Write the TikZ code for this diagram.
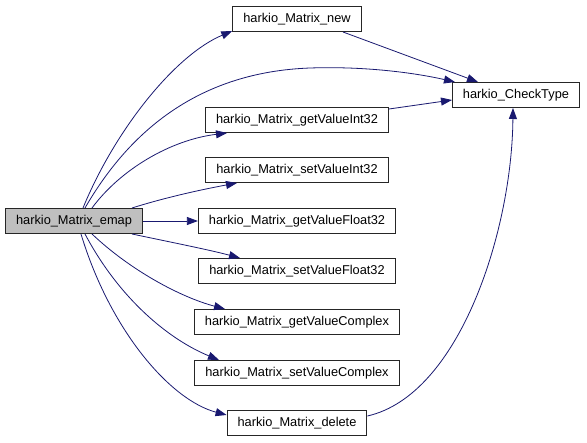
\documentclass[tikz,border=0pt]{standalone}
\usepackage{fontspec}
\setmainfont{Liberation Sans}
\usepackage{xcolor}
\usetikzlibrary{arrows.meta}
\definecolor{callblue}{HTML}{191970}

\begin{document}
\begin{tikzpicture}[x=1pt,y=-1pt,
		fn/.style={draw=black!85, line width=1pt, minimum height=25pt, inner xsep=10.5pt, inner ysep=0pt, font=\fontsize{12.8}{15}\selectfont},
		call/.style={draw=callblue, line width=0.8pt, -{Triangle[length=11pt,width=8pt]}}]
		\useasboundingbox (0,0) rectangle (587,443);
		% caller
		\node[fn, fill=black!25] (emap) at (74,221) {harkio\_Matrix\_emap};
		% callees
		\node[fn] (new) at (297,19) {harkio\_Matrix\_new};
		\node[fn] (check) at (516,95) {harkio\_CheckType};
		\node[fn] (getint) at (297,120) {harkio\_Matrix\_getValueInt32};
		\node[fn] (setint) at (297,170) {harkio\_Matrix\_setValueInt32};
		\node[fn] (getfloat) at (297,221) {harkio\_Matrix\_getValueFloat32};
		\node[fn] (setfloat) at (297,271) {harkio\_Matrix\_setValueFloat32};
		\node[fn] (getcplx) at (297,322) {harkio\_Matrix\_getValueComplex};
		\node[fn] (setcplx) at (297,373) {harkio\_Matrix\_setValueComplex};
		\node[fn] (del) at (297,423) {harkio\_Matrix\_delete};
		% calls
		\draw[call] ([xshift=9pt]emap.north) .. controls (115,130) and (175,55) .. ([yshift=1pt]new.south west);
		\draw[call] ([xshift=11pt]emap.north) .. controls (130,130) and (200,72) .. (310,68) .. controls (370,66) and (420,74) .. ([xshift=3pt]check.north west);
		\draw[call] ([xshift=18pt]emap.north) .. controls (120,170) and (170,140) .. ([xshift=-70pt]getint.south);
		\draw[call] ([xshift=58pt]emap.north) .. controls (170,196) and (210,188) .. ([xshift=-60pt]setint.south);
		\draw[call] (emap) -- (getfloat);
		\draw[call] ([xshift=58pt]emap.south) .. controls (170,242) and (210,250) .. ([xshift=-57pt]setfloat.north);
		\draw[call] ([xshift=18pt]emap.south) .. controls (130,270) and (180,297) .. ([xshift=-72pt]getcplx.north);
		\draw[call] ([xshift=11pt]emap.south) .. controls (120,300) and (170,340) .. ([xshift=-78pt]setcplx.north);
		\draw[call] ([xshift=7pt]emap.south) .. controls (110,330) and (170,400) .. ([yshift=8pt]del.west);
		\draw[call] ([xshift=46pt]new.south) -- ([xshift=-38pt]check.north);
		\draw[call] ([yshift=-2pt]getint.north east) -- ([yshift=-5pt]check.west);
		\draw[call] ([yshift=7pt]del.east) .. controls (460,395) and (512,230) .. ([xshift=-3pt]check.south);
	\end{tikzpicture}
\end{document}
